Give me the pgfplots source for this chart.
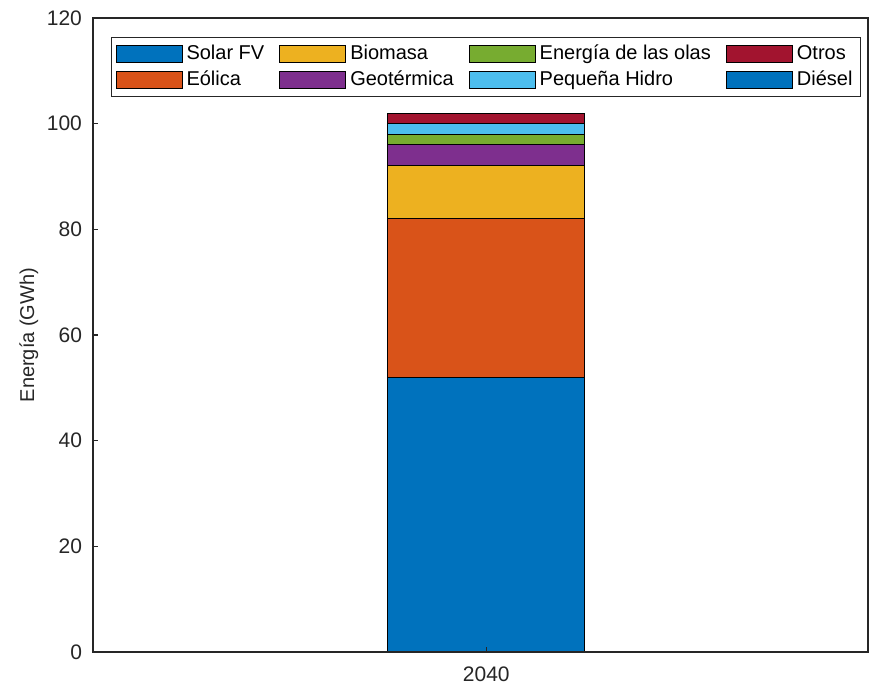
\documentclass[border=0pt]{standalone}
\usepackage{pgfplots}
\pgfplotsset{compat=1.18}
\usepackage{fontspec}
\setmainfont{Liberation Sans}
\definecolor{mblue}{rgb}{0,0.447,0.741}
\definecolor{morange}{rgb}{0.85,0.325,0.098}
\definecolor{myellow}{rgb}{0.929,0.694,0.125}
\definecolor{mpurple}{rgb}{0.494,0.184,0.556}
\definecolor{mgreen}{rgb}{0.466,0.674,0.188}
\definecolor{mcyan}{rgb}{0.301,0.745,0.933}
\definecolor{mred}{rgb}{0.635,0.078,0.184}
\definecolor{axgray}{rgb}{0.15,0.15,0.15}
\begin{document}
\begin{tikzpicture}
\begin{axis}[
  scale only axis,
  width=387.5pt, height=317pt,
  xmin=0, xmax=2, ymin=0, ymax=120,
  ytick={0,20,...,120},
  xtick={1.015}, xticklabels={2040},
  ytick pos=left, xtick pos=bottom,
  axis on top,
  ybar stacked, bar width=98.5pt,
  tick align=inside,
  major tick length=2.5pt,
  axis line style={axgray, line width=0.6pt},
  tick style={axgray, line width=0.6pt},
  every tick label/.append style={font=\fontsize{10.5}{12}\selectfont, text=axgray},
  yticklabel style={xshift=-2pt},
  xticklabel style={yshift=-4pt},
  /pgf/number format/assume math mode=true,
  ylabel={Energía (GWh)},
  ylabel shift=-2.5pt,
  ylabel style={font=\fontsize{10}{12}\selectfont, text=axgray},
  legend columns=4,
  legend cell align=left,
  legend style={at={(0,1)}, xshift=9pt, yshift=-9.5pt, anchor=north west,
    draw=axgray, line width=0.5pt, font=\fontsize{10}{12}\selectfont,
    inner xsep=2pt, inner ysep=1.8pt, row sep=0pt,
    /tikz/every even column/.append style={column sep=5.5pt}},
  legend image code/.code={\draw[#1, line width=0.5pt] (0pt,-4.3pt) rectangle (33pt,4.3pt);},
]
\addplot[fill=mblue, draw=black, line width=0.5pt, forget plot] coordinates {(1.015,52)};
\addplot[fill=morange, draw=black, line width=0.5pt, forget plot] coordinates {(1.015,30)};
\addplot[fill=myellow, draw=black, line width=0.5pt, forget plot] coordinates {(1.015,10)};
\addplot[fill=mpurple, draw=black, line width=0.5pt, forget plot] coordinates {(1.015,4)};
\addplot[fill=mgreen, draw=black, line width=0.5pt, forget plot] coordinates {(1.015,2)};
\addplot[fill=mcyan, draw=black, line width=0.5pt, forget plot] coordinates {(1.015,2)};
\addplot[fill=mred, draw=black, line width=0.5pt, forget plot] coordinates {(1.015,2)};
\addplot[fill=mblue, draw=black, line width=0.5pt, forget plot] coordinates {(1.015,0)};
\addlegendimage{fill=mblue, draw=black}
\addlegendentry{Solar FV}
\addlegendimage{fill=myellow, draw=black}
\addlegendentry{Biomasa}
\addlegendimage{fill=mgreen, draw=black}
\addlegendentry{Energía de las olas}
\addlegendimage{fill=mred, draw=black}
\addlegendentry{Otros}
\addlegendimage{fill=morange, draw=black}
\addlegendentry{Eólica}
\addlegendimage{fill=mpurple, draw=black}
\addlegendentry{Geotérmica}
\addlegendimage{fill=mcyan, draw=black}
\addlegendentry{Pequeña Hidro}
\addlegendimage{fill=mblue, draw=black}
\addlegendentry{Diésel}
\end{axis}
\pgfresetboundingbox
\path ([shift={(-46.5pt,-16.5pt)}]current axis.south west) rectangle ([shift={(1pt,9pt)}]current axis.north east);
\end{tikzpicture}
\end{document}
